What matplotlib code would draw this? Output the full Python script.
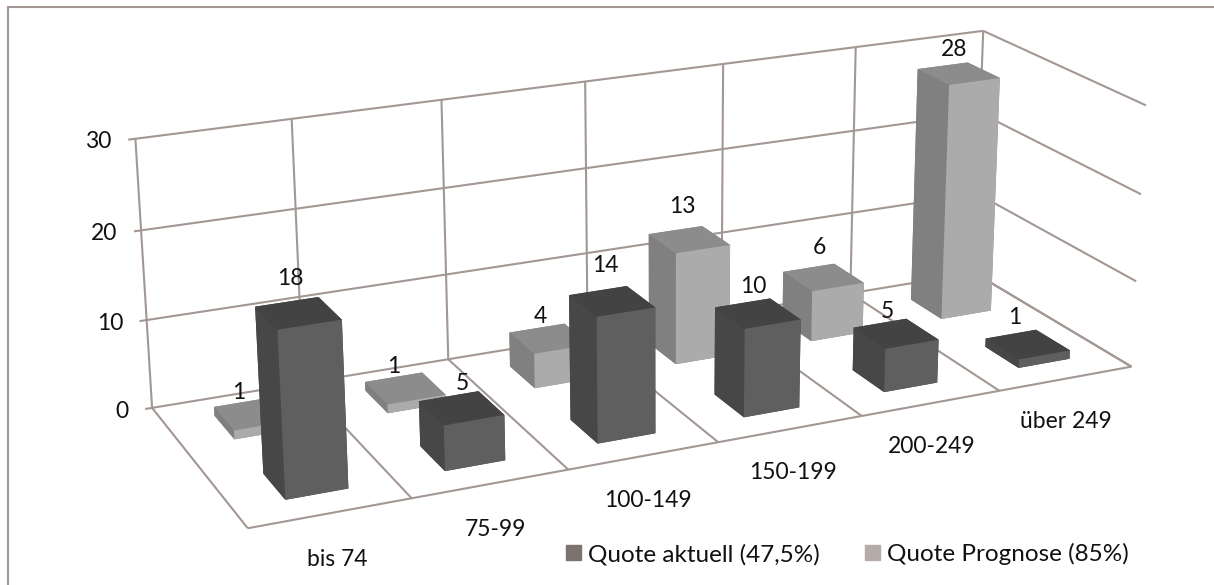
import numpy as np
import matplotlib
matplotlib.use('Agg')
import matplotlib.pyplot as plt
from matplotlib.patches import Patch
from matplotlib.lines import Line2D

plt.rcParams['font.family'] = ['Lato', 'DejaVu Sans']

W, H = 1214, 585

# Data
categories = ['bis 74', '75-99', '100-149', '150-199', '200-249', 'über 249']
quote_aktuell = [18, 5, 14, 10, 5, 1]
quote_prognose = [1, 1, 4, 13, 6, 28]
series_names = ['Quote aktuell (47,5%)', 'Quote Prognose (85%)']
z_ticks = [0, 10, 20, 30]

# Camera, fitted against the corners of the box in the picture
ELEV, AZIM, ROLL = 19.349, -114.622, 0.118
FOCAL = 0.5443
ASPECT = (3.3765, 1.1294, 1)
SCALE, PX, PY = 5451.72, 649.68, 256.42

LINE = '#a39793'
TEXT = '#111111'
FS = 16.5

# face order in bar3d: bottom, top, front, back, left, right
DARK = ['#444444', '#434343', '#5f5f5f', '#444444', '#474747', '#444444']
LIGHT = ['#888888', '#8c8c8c', '#ababab', '#888888', '#808080', '#888888']

# label nudges in pixels (right, down), the picture does not centre them on the bars
NUDGE_LIGHT = [(-12, 7), (-9, 6), (-7, 6), (-5, -5), (-2, -2), (-3, 5)]
NUDGE_DARK = [(-4, -4), (4, 6), (-4, -6), (-2, 2), (-8, 6), (-14, 0)]

fig = plt.figure(figsize=(W / 100, H / 100), dpi=100)
side = SCALE * 0.185
ax = fig.add_axes([(PX - 0.095 * SCALE) / W, 1 - (PY + 0.095 * SCALE) / H, side / W, side / H], projection='3d')
ax.set_xticks([])
ax.set_yticks([])
ax.set_zticks([])
ax.set_xlim(0, 6)
ax.set_ylim(0, 2)
ax.set_zlim(0, 30)
ax.view_init(ELEV, AZIM, ROLL)
ax.set_proj_type('persp', focal_length=FOCAL)
ax.set_box_aspect(ASPECT)
ax.set_axis_off()
ax.patch.set_alpha(0)
ax.computed_zorder = False

grid = dict(color=LINE, lw=1.5, zorder=1, solid_capstyle='butt', clip_on=False)
# back wall and right wall
for z in z_ticks:
    ax.plot([-0.045, 6], [2, 2], [z, z], **grid)
    ax.plot([6, 6], [2, 0], [z, z], **grid)
for i in range(7):
    ax.plot([i, i], [2, 2], [0, 30], **grid)
# floor
ax.plot([0, 6], [0, 0], [0, 0], **grid)
for i in range(7):
    ax.plot([i, i], [2, 0], [0, 0], **grid)

# bars, back to front so that the near ones cover the far ones
BAR_W = 0.39
BAR_D = 0.42
order = 10
for row, values, colors, nudges in ((1, quote_prognose, LIGHT, NUDGE_LIGHT), (0, quote_aktuell, DARK, NUDGE_DARK)):
    for i in range(5, -1, -1):
        x0 = i + 0.515 - BAR_W / 2
        y0 = row + 0.5 - BAR_D / 2
        ax.bar3d(x0, y0, 0, BAR_W, BAR_D, values[i], color=colors, shade=False, zorder=order, edgecolor='none')
        order += 1
        ax.text(i + 0.5 + nudges[i][0] / 150, row + 0.5, values[i] + 2.2 - nudges[i][1] / 9, str(values[i]),
                ha='center', va='bottom', fontsize=FS, color=TEXT, zorder=100)

for z in z_ticks:
    ax.text(-0.15, 2, z, str(z), ha='right', va='center', fontsize=FS, color=TEXT, zorder=100)
for i, name in enumerate(categories):
    ax.text(i + 0.5 - (0.17 + 0.044 * i), -0.61, 0, name, ha='center', va='center', fontsize=FS, color=TEXT, zorder=100)

handles = [Patch(color='#7e7270'), Patch(color='#b5aca8')]
fig.legend(handles, series_names, loc='center left', bbox_to_anchor=(544 / W, 1 - 554 / H), ncol=2, frameon=False,
           fontsize=17.5, handlelength=0.62, handleheight=0.62, handletextpad=0.3, columnspacing=1.85,
           labelcolor=TEXT)

# chart frame, open at the right and at the bottom
fig.add_artist(Line2D([8 / W, 8 / W], [1 - 7 / H, 0], color=LINE, lw=1.5))
fig.add_artist(Line2D([8 / W, 1], [1 - 7 / H, 1 - 7 / H], color=LINE, lw=1.5))

fig.savefig('out.png', dpi=100)
